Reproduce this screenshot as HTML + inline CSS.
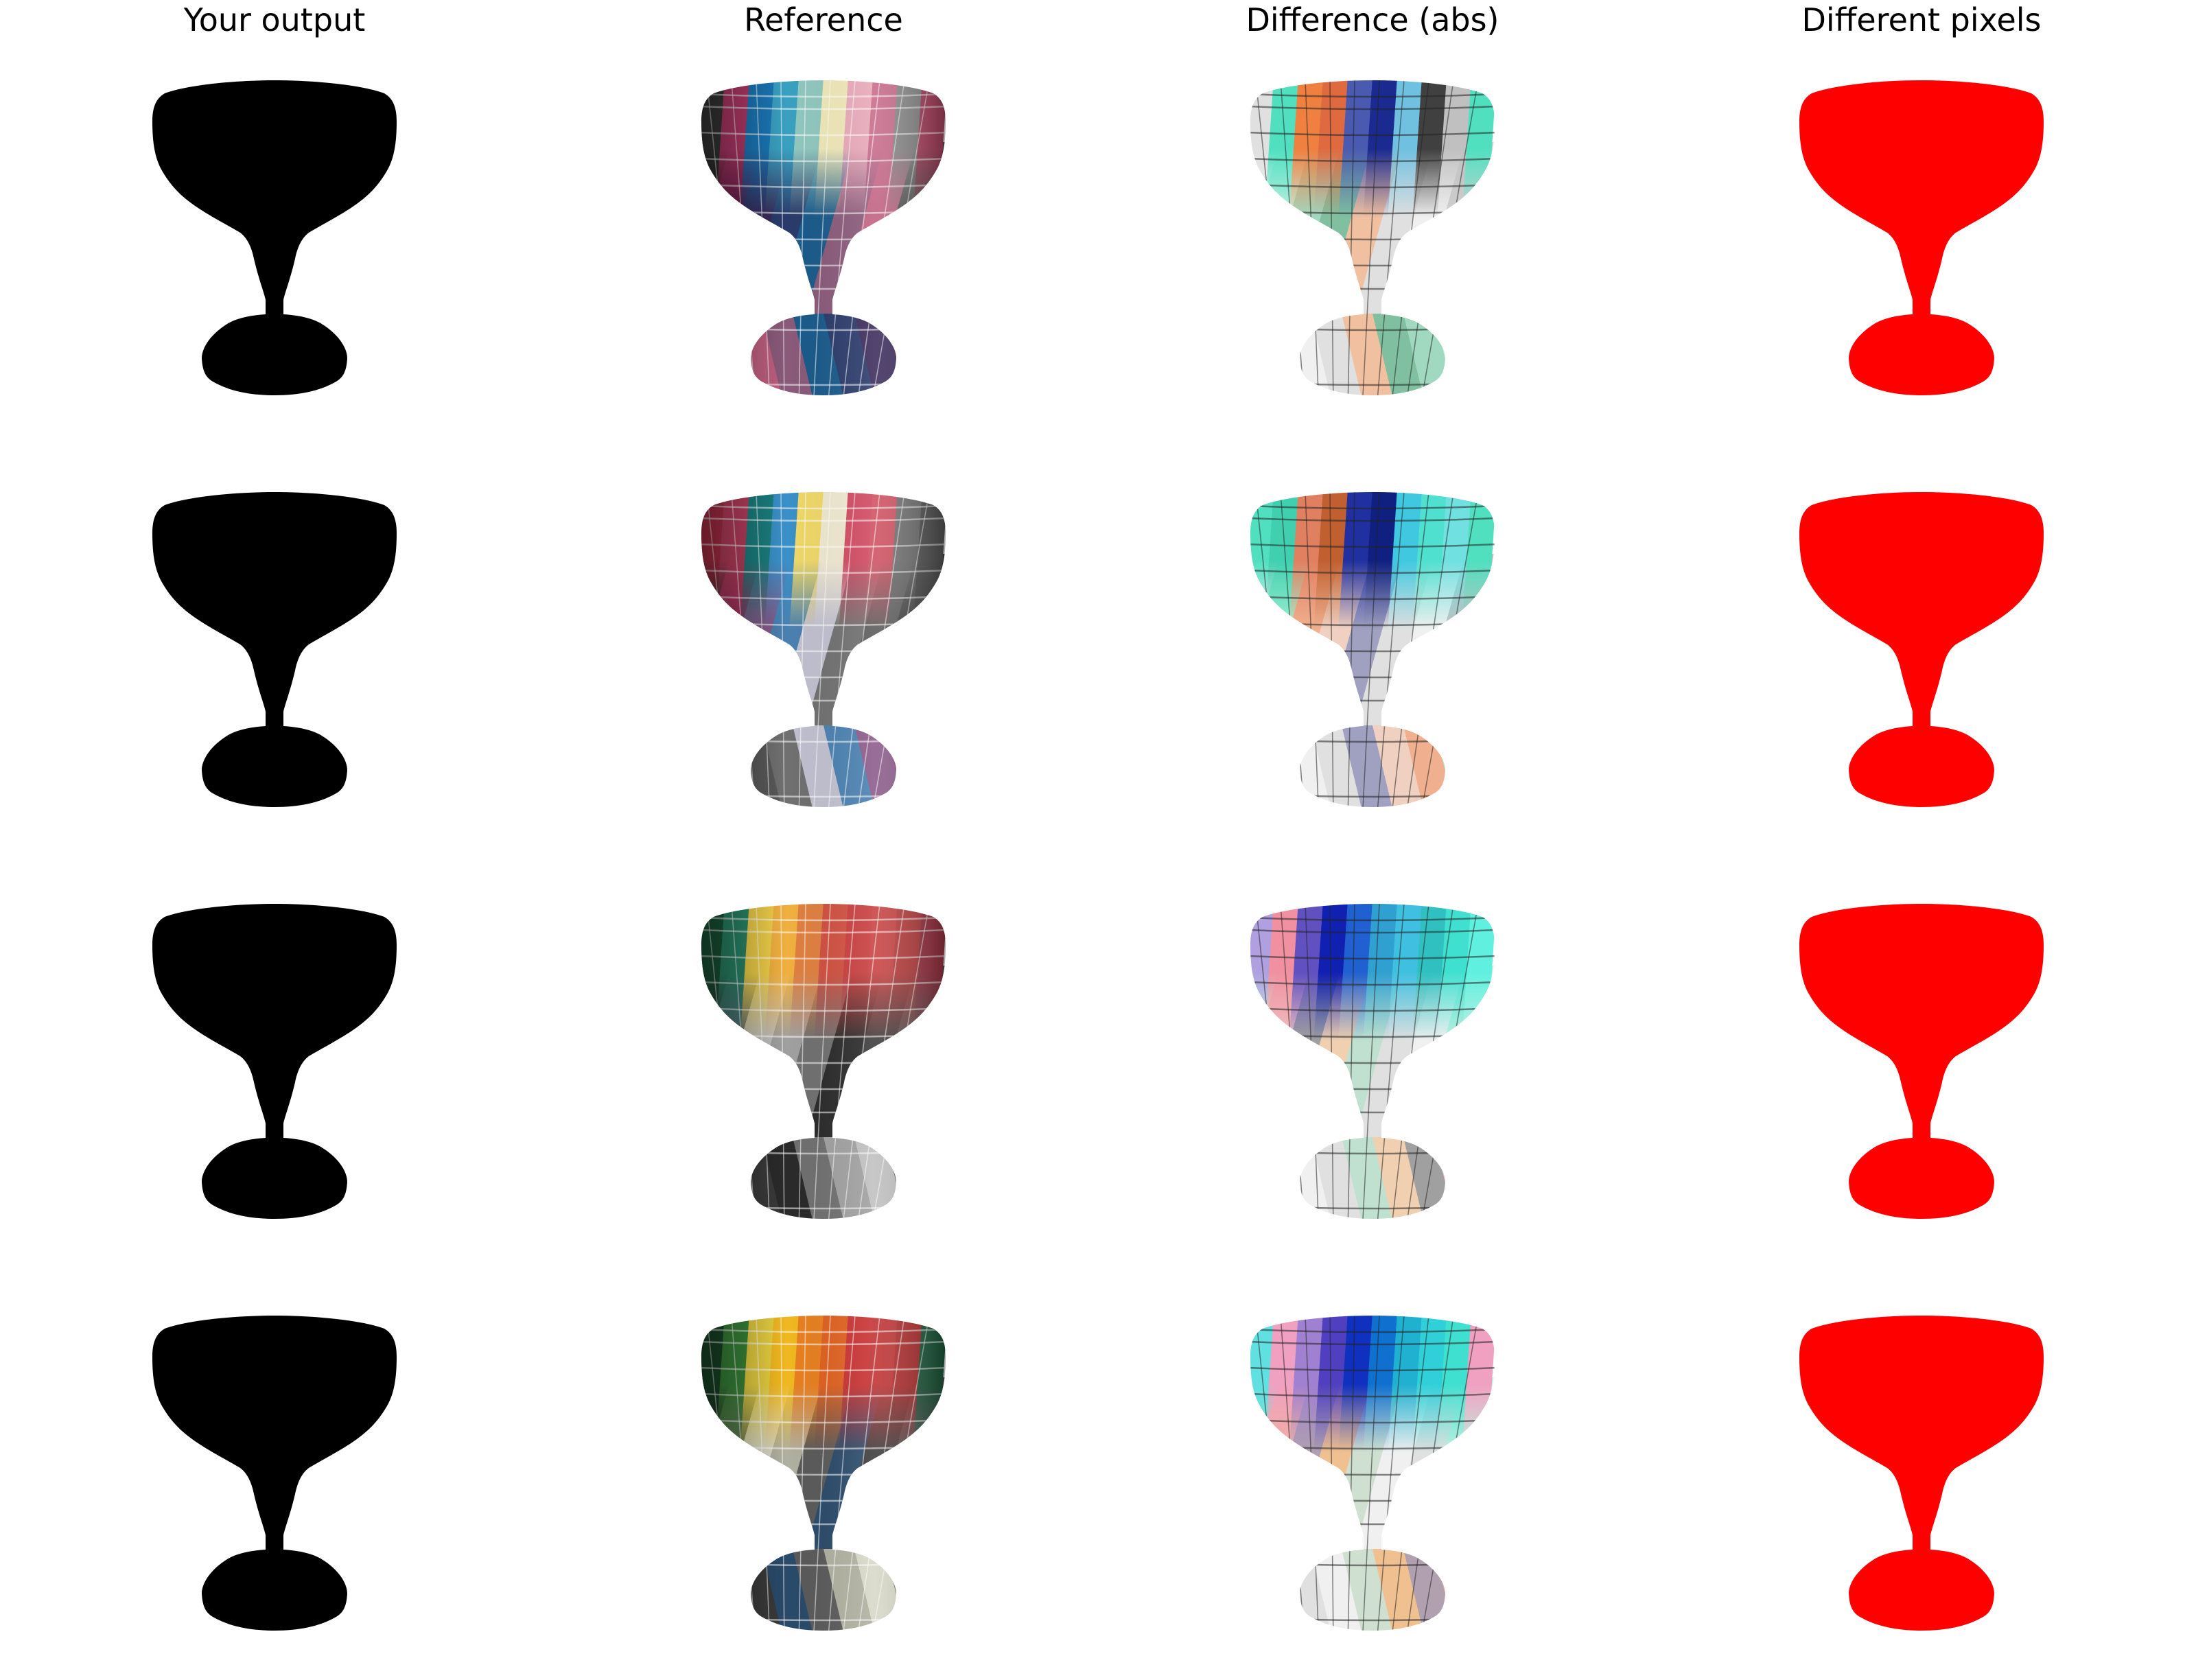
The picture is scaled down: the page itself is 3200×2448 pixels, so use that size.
<!DOCTYPE html>
<html><head><meta charset="utf-8">
<style>
html,body{margin:0;padding:0;background:#fff;}
svg{display:block;}
text{font-family:"DejaVu Sans","Liberation Sans",sans-serif;}
</style></head>
<body>
<svg id="fig" width="3200" height="2448" viewBox="0 0 3200 2448" xmlns="http://www.w3.org/2000/svg">
<defs>
<path id="goblet" d="M0,0 C60,0 128,7 160,19 C174,27 178,42 178,60 C178,92 174,112 166,128 C153,152 138,167 120,180 C98,196 70,210 50,222 C39,230 33,245 30,260 C23,290 15,310 13,320 L13,341 C45,343 62,350 72,357 C96,373 106,392 106,405 C105,424 100,434 88,440 C65,453 35,459 0,459 C-35,459 -65,453 -88,440 C-100,434 -105,424 -106,405 C-106,392 -96,373 -72,357 C-62,350 -45,343 -13,341 L-13,320 C-15,310 -23,290 -30,260 C-33,245 -39,230 -50,222 C-70,210 -98,196 -120,180 C-138,167 -153,152 -166,128 C-174,112 -178,92 -178,60 C-178,42 -174,27 -160,19 C-128,7 -60,0 0,0 Z"/>
<clipPath id="gclip"><use href="#goblet"/></clipPath>
<linearGradient id="shade" x1="0" y1="0" x2="1" y2="0">
<stop offset="0" stop-color="#000" stop-opacity="0.45"/>
<stop offset="0.35" stop-color="#000" stop-opacity="0"/>
<stop offset="0.7" stop-color="#fff" stop-opacity="0.12"/>
<stop offset="1" stop-color="#000" stop-opacity="0.35"/>
</linearGradient>
<linearGradient id="fadeG" x1="0" y1="0" x2="0" y2="1" gradientUnits="userSpaceOnUse" x2v="0">
<stop offset="0" stop-color="#fff"/>
</linearGradient>
<linearGradient id="fadeV" gradientUnits="userSpaceOnUse" x1="0" y1="100" x2="0" y2="200">
<stop offset="0" stop-color="#fff" stop-opacity="1"/>
<stop offset="1" stop-color="#fff" stop-opacity="0"/>
</linearGradient>
<mask id="upperMask" maskUnits="userSpaceOnUse" x="-200" y="-20" width="400" height="500">
<rect x="-200" y="-20" width="400" height="120" fill="#fff"/>
<rect x="-200" y="100" width="400" height="100" fill="url(#fadeV)"/>
</mask>
</defs>
<g>
<text x="400" y="45" font-size="46" text-anchor="middle">Your output</text>
<text x="1200" y="45" font-size="46" text-anchor="middle">Reference</text>
<text x="2000" y="45" font-size="46" text-anchor="middle">Difference (abs)</text>
<text x="2800" y="45" font-size="46" text-anchor="middle">Different pixels</text>
</g>
<g id="rows"></g>
</svg>
<script>
const NS='http://www.w3.org/2000/svg';
const rowsG=document.getElementById('rows');
const refUpper=[
 ['#3a3a3a','#b83a6a','#1a78b8','#3aa0c0','#90c8c0','#f0e8b8','#e8a8b8','#c86a8a','#888888','#b04060'],
 ['#b8304a','#c04060','#1a8080','#3a90c8','#f0d868','#f0e8d0','#d04860','#d05060','#707070','#555555'],
 ['#1a5a3a','#2a8a6a','#f0d048','#f0b040','#e08040','#d05040','#c83c3c','#c84040','#b83838','#a03040'],
 ['#1a4a2a','#3a8a3a','#e8d040','#f0b820','#e88020','#e06020','#c83030','#c03030','#b02828','#1a5a3a']];
const refLower=[
 ['#1a1a1a','#5a1a4a','#3a2a5a','#2a3a6a','#1a5a8a','#8a5a7a','#c06080','#4a4a4a'],
 ['#2a2a2a','#a03060','#8a5a8a','#4a80b0','#c0c0d0','#707070','#5a5a5a','#3a3a3a'],
 ['#3a3a3a','#5a6a7a','#c0c0c0','#a0a0a0','#707070','#2a2a2a','#3a3a3a','#505050'],
 ['#2a2a2a','#6a7a5a','#d8d8c8','#b0b0a0','#5a5a5a','#2a4a6a','#3a3a3a','#505050']];
const diffUpper=[
 ['#e0e0e0','#50e0c0','#f08040','#e06a40','#4a5ab0','#1a2a90','#70c0e0','#404040','#c0c0c0','#50e0c0'],
 ['#50e0c0','#40d0b0','#e08060','#c06030','#2030a0','#102080','#40c8e0','#50e0d0','#70e0e0','#50e0c0'],
 ['#b0a0e0','#f090a0','#6050c0','#1020b0','#2060d0','#30a0d0','#40c0e0','#30c0c0','#40e0d0','#60f0e0'],
 ['#60e0e0','#f0a0c0','#a080d0','#5040c0','#1030c0','#1070d0','#20b0d0','#30d0d8','#40e0d0','#f0a0c0']];
const diffLower=[
 ['#f0f0f0','#c0f0e0','#a0d8c0','#80c0a0','#f0c0a0','#e0e0e0','#f0f0f0','#d0d0d0'],
 ['#f0f0f0','#a0f0d0','#f0b090','#f0d0c0','#a0a0c0','#e0e0e0','#f0f0f0','#c0c0c0'],
 ['#c0f0e0','#f0c0c0','#a0a0a0','#f0d0b0','#c0e0d0','#e0e0e0','#f0f0f0','#c0f0e0'],
 ['#80e0d0','#f0b0a0','#b0a0b0','#f0c090','#d0e0d0','#f0f0f0','#e0e0e0','#c0f0e0']];
const rowTop=117, rowPitch=600;
function stripeGroup(parent,colors,y0,y1,skew){
  const n=colors.length, w=360/n;
  colors.forEach((c,i)=>{
    const p=document.createElementNS(NS,'path');
    const x=-180+i*w;
    p.setAttribute('d',`M${x},${y0} L${x+w+0.8},${y0} L${x+w+0.8+skew},${y1} L${x+skew},${y1} Z`);
    p.setAttribute('fill',c);
    
    
    parent.appendChild(p);
  });
}
function gridLines(parent,color,op){
  const g=document.createElementNS(NS,'g');
  
  
  g.setAttribute('stroke',color);g.setAttribute('stroke-opacity',op);g.setAttribute('fill','none');
  [20,38,76,114,152,190,228,266,300,360,440].forEach(y=>{
    const l=document.createElementNS(NS,'path');
    l.setAttribute('d',`M-180,${y} Q0,${y+8} 180,${y}`);l.setAttribute('stroke-width','2.5');g.appendChild(l);
  });
  for(let x=-170;x<=170;x+=36){
    const l=document.createElementNS(NS,'path');
    l.setAttribute('d',`M${x},0 L${x*0.6-20},460`);l.setAttribute('stroke-width','1.5');g.appendChild(l);
  }
  parent.appendChild(g);
}
function texGoblet(cx,cy,upper,lower,gridColor,name,dark){
  const g=document.createElementNS(NS,'g');
  g.setAttribute('transform',`translate(${cx},${cy})`);
  
  
  const c=document.createElementNS(NS,'g');
  c.setAttribute('clip-path','url(#gclip)');
  stripeGroup(c,lower,90,340,-70);
  stripeGroup(c,lower.slice().reverse(),340,465,30);
  const up=document.createElementNS(NS,'g');
  up.setAttribute('mask','url(#upperMask)');
  stripeGroup(up,upper,-5,205,-14);
  c.appendChild(up);
  gridLines(c,gridColor,0.55);
  if(dark){
    const r=document.createElementNS(NS,'rect');
    r.setAttribute('x',-180);r.setAttribute('y',0);r.setAttribute('width',360);r.setAttribute('height',460);
    r.setAttribute('fill','url(#shade)');c.appendChild(r);
  }
  g.appendChild(c);
  rowsG.appendChild(g);
}
function silhouette(cx,cy,fill,name){
  const u=document.createElementNS(NS,'use');
  u.setAttribute('href','#goblet');
  u.setAttribute('transform',`translate(${cx},${cy})`);
  u.setAttribute('fill',fill);
  
  
  rowsG.appendChild(u);
}
for(let r=0;r<4;r++){
  const cy=rowTop+r*rowPitch;
  silhouette(400,cy,'#000','output-goblet');
  texGoblet(1200,cy,refUpper[r],refLower[r],'#ffffff','reference-goblet',true);
  texGoblet(2000,cy,diffUpper[r],diffLower[r],'#222222','difference-goblet',false);
  silhouette(2800,cy,'#ff0000','diff-pixels-goblet');
}
</script>
</body></html>
